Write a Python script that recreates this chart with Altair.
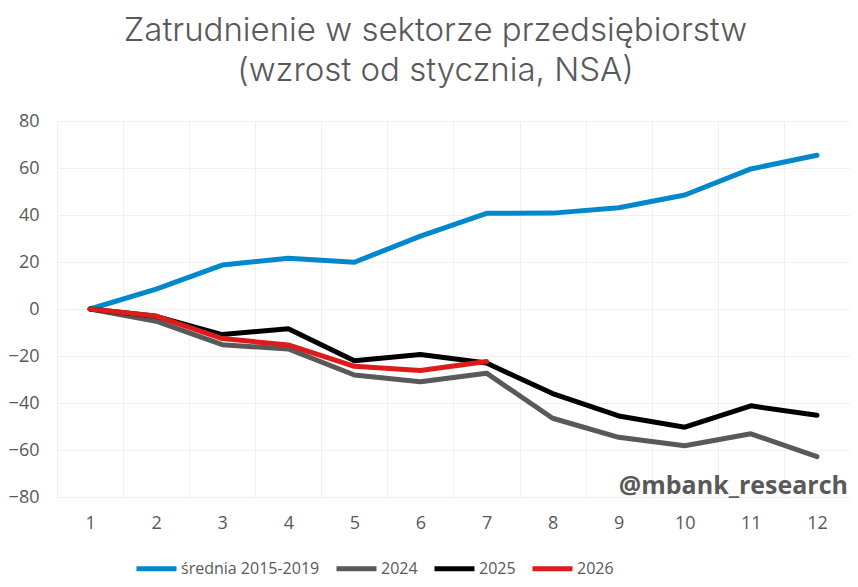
import altair as alt
import pandas as pd

months = list(range(1, 13))
avg_2015_2019 = [0, 8.5, 18.7, 21.6, 19.9, 31.0, 40.7, 40.8, 43.1, 48.5, 59.6, 65.4]
y2024 = [0, -5.2, -15.2, -17.0, -28.1, -31.0, -27.3, -46.5, -54.6, -58.2, -53.1, -62.8]
y2025 = [0, -3.1, -10.9, -8.4, -22.0, -19.4, -23.0, -36.0, -45.5, -50.3, -41.2, -45.2]
y2026 = [0, -3.0, -12.6, -15.3, -24.4, -26.2, -22.3]

series_names = ["średnia 2015-2019", "2024", "2025", "2026"]
series_values = [avg_2015_2019, y2024, y2025, y2026]
series_colors = ["#0088CC", "#595959", "#000000", "#DD1C1A"]

rows = []
for name, vals in zip(series_names, series_values):
    for m, v in zip(months, vals):
        rows.append({"miesiac": str(m), "wartosc": v, "seria": name})
df = pd.DataFrame(rows)

FONT = "Open Sans"
TFONT = "Inter"
TXT = "#595959"

color = alt.Color(
    "seria:N",
    scale=alt.Scale(domain=series_names, range=series_colors),
    legend=alt.Legend(
        title=None,
        orient="none",
        legendX=77,
        legendY=425,
        direction="horizontal",
        symbolType="stroke",
        symbolSize=1600,
        symbolStrokeWidth=5,
        labelFontSize=16,
        labelFont=FONT,
        labelColor=TXT,
        labelOffset=2,
        columnPadding=6,
    ),
)

x = alt.X(
    "miesiac:N",
    sort=[str(m) for m in months],
    title=None,
    scale=alt.Scale(paddingInner=0, paddingOuter=0),
    axis=alt.Axis(
        labelAngle=0,
        labelFontSize=18,
        labelFont=FONT,
        labelColor=TXT,
        labelPadding=17,
        ticks=False,
        domain=False,
        grid=True,
        gridColor="#F0F0F0",
        tickBand="extent",
    ),
)
y = alt.Y(
    "wartosc:Q",
    title=None,
    scale=alt.Scale(domain=[-80, 80], nice=False),
    axis=alt.Axis(
        values=[-80, -60, -40, -20, 0, 20, 40, 60, 80],
        labelFontSize=18,
        labelFont=FONT,
        labelColor=TXT,
        labelPadding=18,
        ticks=False,
        domain=False,
        grid=True,
        gridColor="#F0F0F0",
    ),
)

layers = []
for name in series_names:
    layers.append(
        alt.Chart(df)
        .transform_filter(alt.datum.seria == name)
        .mark_line(strokeWidth=5, strokeCap="round", strokeJoin="round")
        .encode(x=x, y=y, color=color)
    )

wm = (
    alt.Chart(pd.DataFrame({"t": ["@mbank_research"]}))
    .mark_text(align="right", baseline="alphabetic", font=FONT, fontSize=25,
               fontWeight="bold", color=TXT)
    .encode(x=alt.value(791), y=alt.value(373), text="t:N")
)

chart = (
    alt.layer(*layers, wm)
    .properties(
        width=793,
        height=376,
        autosize=alt.AutoSizeParams(type="none"),
        padding={"left": 49, "top": 113, "right": 0, "bottom": 82},
        title=alt.TitleParams(
            text=["Zatrudnienie w sektorze przedsiębiorstw", "(wzrost od stycznia, NSA)"],
            font=TFONT,
            fontSize=33,
            fontWeight=300,
            color=TXT,
            lineHeight=40,
            anchor="middle",
            dx=-18,
            offset=24,
        ),
    )
    .configure_view(stroke=None)
)

chart.save("out.html", embed_options={"renderer": "svg", "actions": False})
